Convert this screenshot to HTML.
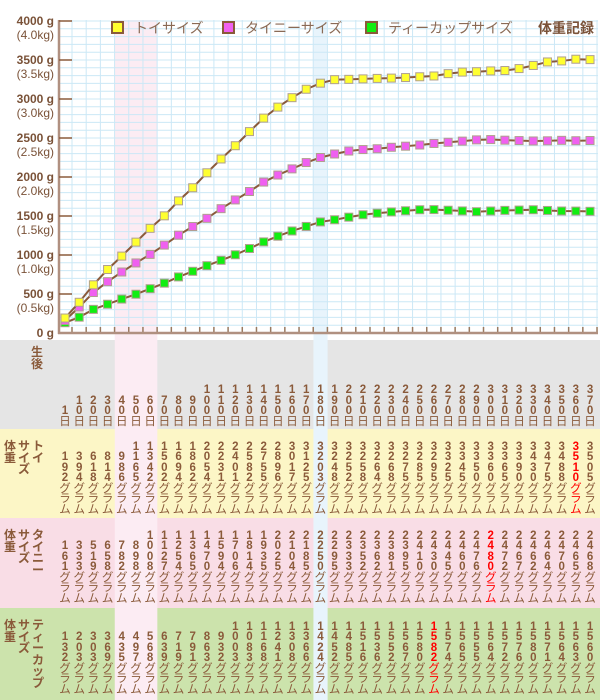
<!DOCTYPE html>
<html><head><meta charset="utf-8">
<style>
body{margin:0;width:600px;height:700px;overflow:hidden;background:#fff;font-family:"Liberation Sans","Noto Sans CJK JP",sans-serif;}
#chart{position:absolute;left:0;top:0;}
.cell{position:absolute;display:flex;flex-direction:column;justify-content:flex-end;align-items:center;font-size:11.5px;line-height:10.5px;color:#8a5a3a;font-weight:bold;width:14px;}
.cell span.u{font-weight:normal}
.red{color:#f00 !important}
.lab{position:absolute;font-size:12px;line-height:11.5px;color:#8a5a3a;font-weight:bold;width:12px;text-align:center}
</style></head><body>
<svg id="chart" width="600" height="700"></svg>
<div id="table"></div>
<script>
const days=[1,10,20,30,40,50,60,70,80,90,100,110,120,130,140,150,160,170,180,190,200,210,220,230,240,250,260,270,280,290,300,310,320,330,340,350,360,370];
const toy=[192,394,618,814,986,1165,1342,1502,1694,1862,2054,2231,2401,2582,2755,2896,3017,3125,3203,3248,3252,3258,3264,3268,3275,3285,3295,3325,3345,3350,3360,3365,3390,3430,3475,3488,3510,3505];
const tiny=[161,333,519,658,782,898,1008,1127,1254,1365,1470,1594,1706,1814,1935,2025,2104,2185,2250,2295,2333,2352,2362,2381,2395,2410,2430,2445,2460,2476,2480,2472,2467,2462,2464,2470,2465,2468];
const teacup=[132,203,303,369,435,497,568,639,719,791,863,932,1003,1083,1168,1241,1308,1366,1424,1452,1485,1516,1536,1552,1567,1580,1582,1574,1565,1555,1564,1572,1576,1580,1571,1564,1563,1560];
const yTicks=[0,500,1000,1500,2000,2500,3000,3500,4000];
const yTickKg=["","(0.5kg)","(1.0kg)","(1.5kg)","(2.0kg)","(2.5kg)","(3.0kg)","(3.5kg)","(4.0kg)"];

const NS="http://www.w3.org/2000/svg";
const svg=document.getElementById('chart');
const X0=65,DX=14.19,Y0=333,YS=312/4000;
const xs=i=>X0+i*DX, ys=v=>Y0-v*YS;
function el(t,a,p){const e=document.createElementNS(NS,t);for(const k in a)e.setAttribute(k,a[k]);(p||svg).appendChild(e);return e;}
el('rect',{x:0,y:340,width:600,height:89,fill:'#e5e5e5'});
el('rect',{x:0,y:429,width:600,height:89,fill:'#fcf6c6'});
el('rect',{x:0,y:518,width:600,height:90,fill:'#f9dde6'});
el('rect',{x:0,y:608,width:600,height:92,fill:'#cce3ac'});
el('rect',{x:xs(4)-7,y:20,width:DX*3,height:680,fill:'#fcecf3'});
el('rect',{x:xs(18)-7,y:20,width:DX,height:680,fill:'#e8f4fc'});
for(let v=0;v<=4000;v+=100){el('line',{x1:59,x2:598,y1:ys(v),y2:ys(v),stroke:'#cce8f6','stroke-width':1});}
for(let i=0;i<=38;i++){const x=xs(i)+7;el('line',{x1:x,x2:x,y1:20,y2:Y0,stroke:'#cce8f6','stroke-width':1});
 el('line',{x1:x,x2:x,y1:Y0-6,y2:Y0,stroke:'#9a7a60','stroke-width':1.5});}
el('line',{x1:59,x2:59,y1:20,y2:Y0+1,stroke:'#b09080','stroke-width':2.5});
el('line',{x1:58,x2:598,y1:Y0,y2:Y0,stroke:'#b09080','stroke-width':2.5});
yTicks.forEach((v,k)=>{
 if(v>0){const tk=el('line',{x1:59,x2:72,y1:ys(v),y2:ys(v),stroke:'#8a5a3a','stroke-width':1.5});
 }
 const t=el('text',{x:54,y:ys(v)+4,'text-anchor':'end','font-size':12,fill:'#7a5238','font-weight':'bold'});t.textContent=v+' g';
 
 if(yTickKg[k]){const t2=el('text',{x:54,y:ys(v)+18,'text-anchor':'end','font-size':12,fill:'#7a5238'});t2.textContent=yTickKg[k];
 }
});
function series(arr,fill,name){
 const pts=arr.map((v,i)=>xs(i)+','+ys(v)).join(' ');
 const l=el('polyline',{points:pts,fill:'none',stroke:'#8a5a3a','stroke-width':2});
 
 arr.forEach((v,i)=>{const r=el('rect',{x:xs(i)-4,y:ys(v)-4,width:8,height:8,fill:fill,stroke:'#b0a090','stroke-width':1});
 });
}
series(teacup,'#11ee11','teacup');
series(tiny,'#f060f0','tiny');
series(toy,'#ffff30','toy');
const leg=[[112,'#ffff30','トイサイズ'],[223,'#f060f0','タイニーサイズ'],[366,'#11ee11','ティーカップサイズ']];
leg.forEach(([x,c,t])=>{const r=el('rect',{x:x,y:22,width:11,height:11,fill:c,stroke:'#8a5a3a','stroke-width':2});
 
 const tx=el('text',{x:x+22,y:33,'font-size':14,fill:'#8a6a55'});tx.textContent=t;
 });
const ttl=el('text',{x:538,y:33,'font-size':14,fill:'#7a5238','font-weight':'bold'});ttl.textContent='体重記録';


const tb=document.getElementById('table');
function cell(chars,x,bottom,cls,name){
 const d=document.createElement('div');d.className='cell'+(cls?' '+cls:'');
 
 
 d.style.left=(x-7)+'px';d.style.top=(bottom-120)+'px';d.style.height='120px';
 d.innerHTML=chars.map(c=>/[0-9]/.test(c)?'<span>'+c+'</span>':'<span class="u">'+c+'</span>').join('');
 tb.appendChild(d);
}
function maxIdx(a){let m=0;a.forEach((v,i)=>{if(v>a[m])m=i;});return m;}
days.forEach((d,i)=>cell([...String(d),'日'],xs(i),427,'','day-label'));
[[toy,515],[tiny,604],[teacup,695]].forEach(([arr,b])=>{const m=maxIdx(arr);
 arr.forEach((v,i)=>cell([...String(v),'グ','ラ','ム'],xs(i),b,i===m?'red':'','weight-value'));});
function lab(txt,x,y,name){const d=document.createElement('div');d.className='lab';
 
 
 d.style.left=x+'px';d.style.top=y+'px';d.innerHTML=[...txt].join('<br>');tb.appendChild(d);}
lab('生後',31,347,'row-header-age');
[[441,'トイ'],[530,'タイニー'],[620,'ティーカップ']].forEach(([y,n])=>{
 lab('体重',4,y,'row-header-weight');lab('サイズ',18,y,'row-header-size');lab(n,32,y,'row-header-breed');});
</script>
</body></html>
